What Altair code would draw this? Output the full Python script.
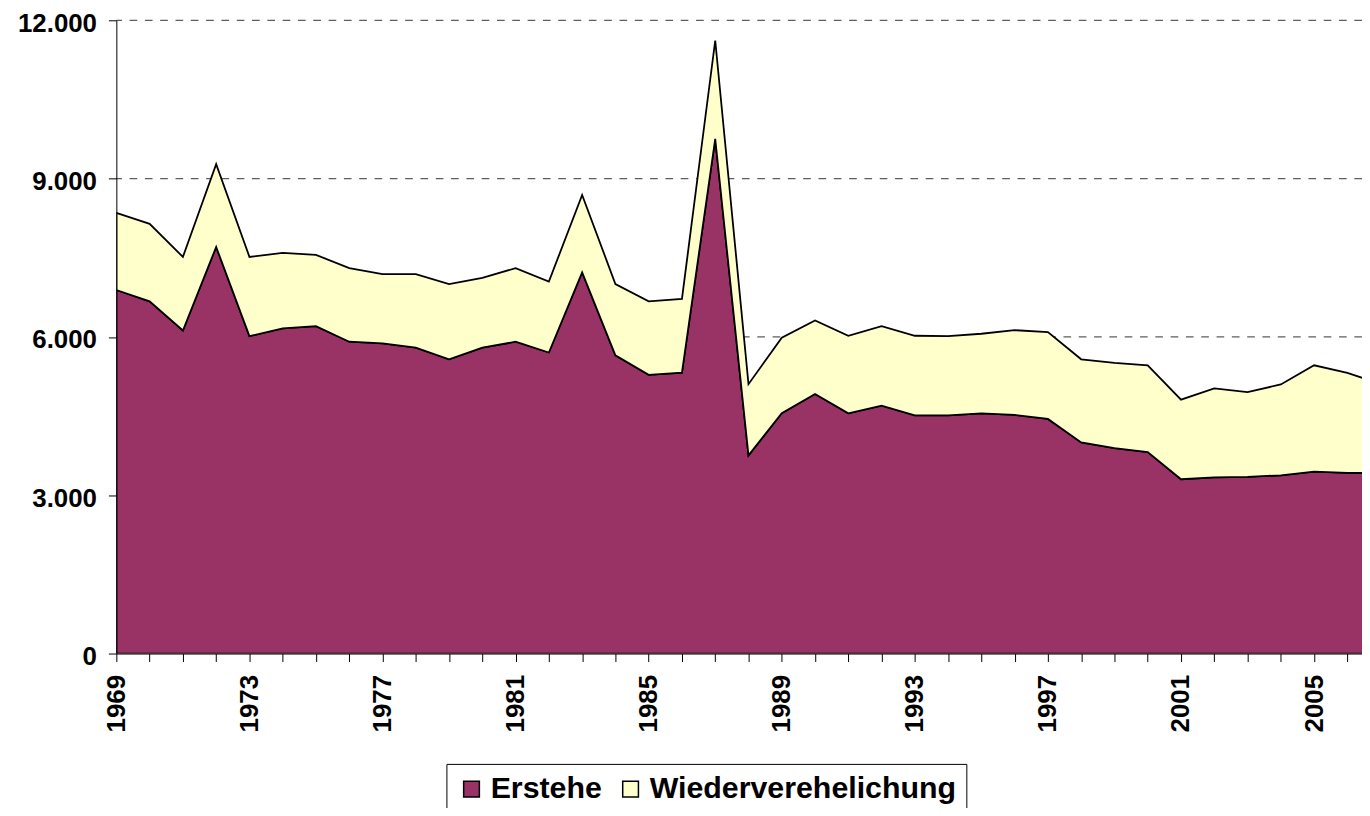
import altair as alt
import pandas as pd

# ---- data ----
years = list(range(1969, 2008))
erstehe = [6889, 6675, 6122, 7705, 6015, 6160, 6204, 5909, 5877, 5796,
           5576, 5796, 5909, 5705, 7221, 5651, 5281, 5325, 9752, 3755,
           4553, 4917, 4553, 4697, 4515, 4515, 4553, 4521, 4446, 4000,
           3893, 3818, 3303, 3340, 3347, 3378, 3447, 3422, 3420]
wiederverehelichung = [1462, 1469, 1394, 1569, 1501, 1432, 1350, 1394, 1313, 1394,
                       1426, 1325, 1394, 1343, 1469, 1351, 1394, 1394, 1865, 1350,
                       1431, 1394, 1469, 1507, 1507, 1500, 1507, 1607, 1645, 1576,
                       1614, 1645, 1507, 1684, 1607, 1721, 2016, 1896, 1690]
series_names = ["Erstehe", "Wiederverehelichung"]
series_colors = ["#993366", "#FFFFCC"]
y_ticks = [0, 3000, 6000, 9000, 12000]
grid_values = [3000, 6000, 9000, 12000]
x_tick_years = list(range(1969, 2007))

rows = []
for i, yr in enumerate(years):
    rows.append({"Jahr": yr, "Art": series_names[0], "Anzahl": erstehe[i], "ord": 0})
    rows.append({"Jahr": yr, "Art": series_names[1], "Anzahl": wiederverehelichung[i], "ord": 1})
df = pd.DataFrame(rows)

FONT = "Liberation Sans"
x_scale = alt.Scale(domain=[1969, 2006.44], nice=False, zero=False)
y_scale = alt.Scale(domain=[0, 12000], nice=False)

y_axis = alt.Axis(
    values=y_ticks, format=",d",
    labelExpr="replace(datum.label, ',', '.')",
    title=None, grid=False, zindex=1,
    domainColor="black", domainWidth=1,
    tickColor="black", tickSize=8, tickWidth=1,
    labelFont=FONT, labelFontSize=26, labelFontWeight="bold", labelColor="black",
    labelPadding=12, labelOffset=3, labelOverlap=False, labelFlush=False,
)
x_axis = alt.Axis(
    values=x_tick_years, format="d",
    labelExpr="datum.value % 4 == 1 ? datum.label : ''",
    title=None, grid=False, zindex=1,
    domainColor="black", domainWidth=1,
    tickColor="black", tickSize=8, tickWidth=1,
    labelFont=FONT, labelFontSize=26, labelFontWeight="bold", labelColor="black",
    labelAngle=270, labelAlign="right", labelBaseline="middle",
    labelPadding=13, labelOverlap=False, labelFlush=False, labelBound=False,
)

grid = alt.Chart(pd.DataFrame({"v": grid_values})).mark_rule(
    color="#5e5e5e", strokeDash=[7.7, 7.7], strokeWidth=1.2
).encode(y=alt.Y("v:Q", scale=y_scale, axis=y_axis))

area = alt.Chart(df).transform_stack(
    stack="Anzahl", groupby=["Jahr"], as_=["y0", "y1"],
    sort=[alt.SortField("ord", order="ascending")],
).mark_area(
    clip=True, opacity=1, stroke="black", strokeWidth=1.8, strokeJoin="miter"
).encode(
    x=alt.X("Jahr:Q", scale=x_scale, axis=x_axis),
    y=alt.Y("y1:Q", scale=y_scale, axis=y_axis),
    y2=alt.Y2("y0:Q"),
    color=alt.Color(
        "Art:N",
        scale=alt.Scale(domain=series_names, range=series_colors),
        legend=alt.Legend(
            title=None, orient="none", legendX=332, legendY=748,
            direction="horizontal", strokeColor="black", fillColor="white",
            padding=10, symbolType="square", symbolSize=250,
            symbolStrokeColor="black", symbolStrokeWidth=1.5, symbolOpacity=1,
            labelFont=FONT, labelFontSize=30.5, labelFontWeight="bold",
            labelColor="black", labelLimit=600, columnPadding=13, labelOffset=4,
        ),
    ),
)

chart = alt.layer(grid, area).properties(
    width=1253, height=637,
    autosize=alt.AutoSizeParams(type="none"),
    padding={"left": 109, "top": 10, "right": 0, "bottom": 153},
    background="white",
).configure_view(stroke=None)

chart.save("out.html", embed_options={"renderer": "svg", "actions": False})
